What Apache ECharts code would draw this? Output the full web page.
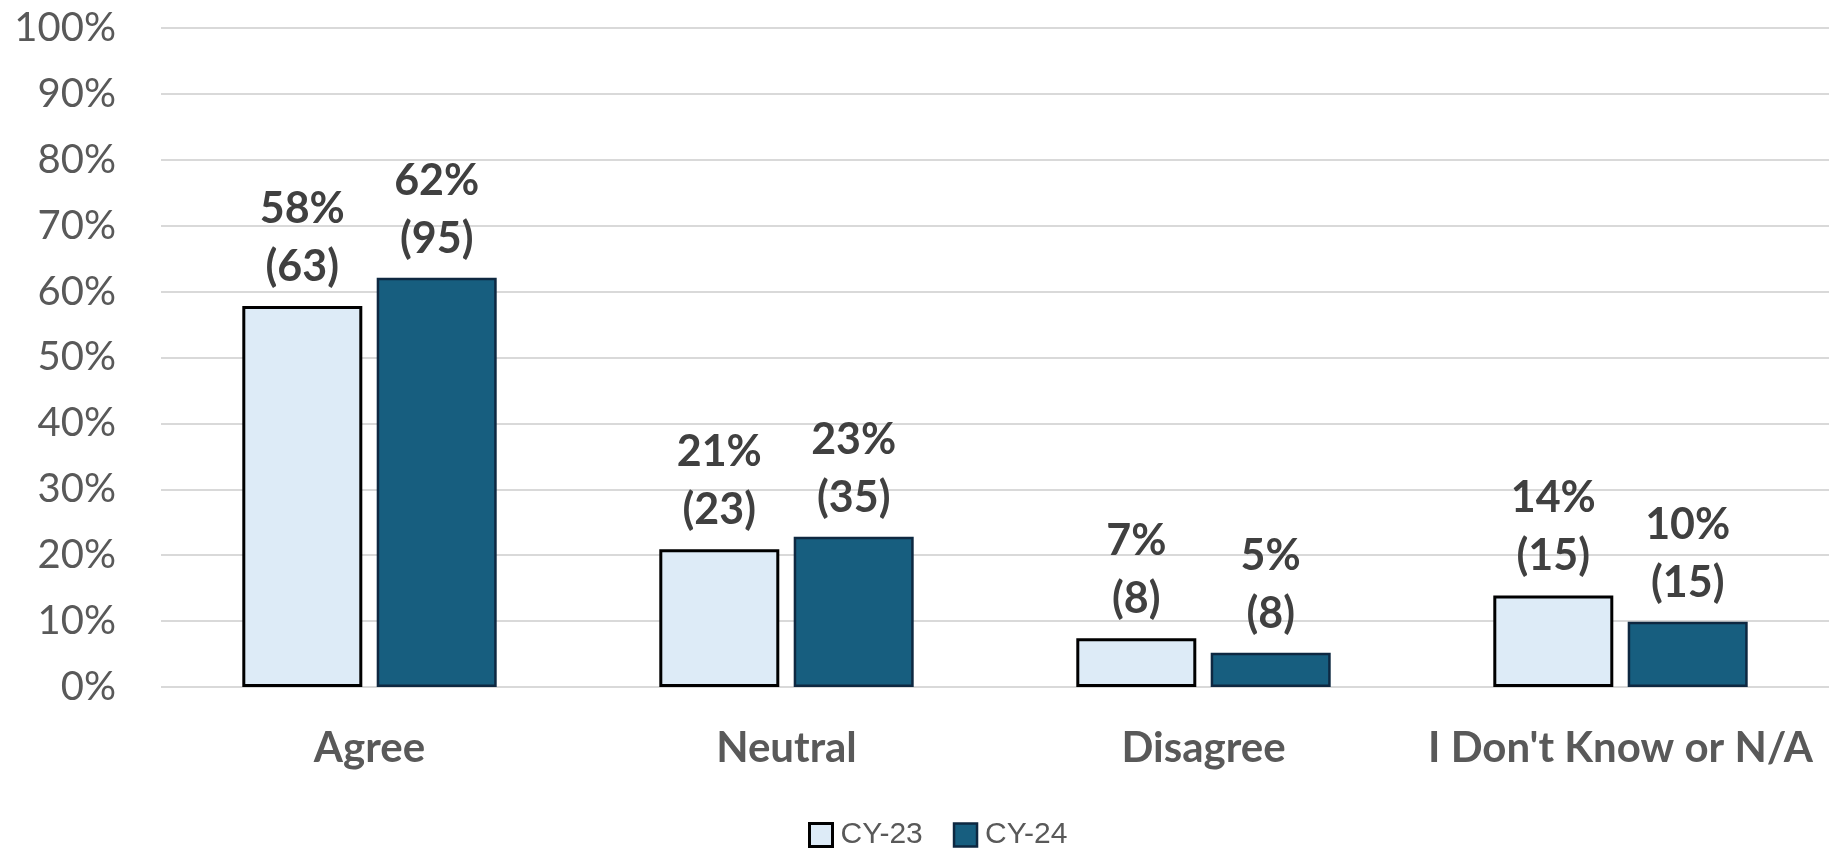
<!DOCTYPE html>
<html>
<head>
<meta charset="utf-8">
<script src="https://cdn.jsdelivr.net/npm/echarts@6/dist/echarts.min.js"></script>
<style>
    html, body { margin: 0; padding: 0; background: #fff; }
    #main { width: 1832px; height: 852px; }
</style>
</head>
<body>
<div id="main"></div>
<script>
var categories = ['Agree', 'Neutral', 'Disagree', "I Don't Know or N/A"];
var seriesNames = ['CY-23', 'CY-24'];
// bar heights in percent
var cy23Values = [57.8, 20.9, 7.4, 13.9];
var cy24Values = [62.1, 22.8, 5.2, 9.9];
// label text shown above the bars
var cy23Pct = ['58%', '21%', '7%', '14%'];
var cy24Pct = ['62%', '23%', '5%', '10%'];
var cy23Counts = [63, 23, 8, 15];
var cy24Counts = [95, 35, 8, 15];
var yTicks = [0, 10, 20, 30, 40, 50, 60, 70, 80, 90, 100];

var dom = document.getElementById('main');
var myChart = echarts.init(dom);

function makeLabel(pcts, counts) {
    return {
        show: true,
        position: 'top',
        distance: 10,
        color: '#404040',
        fontFamily: 'Lato',
        fontWeight: 'bold',
        fontSize: 43,
        lineHeight: 58,
        formatter: function (p) {
            return pcts[p.dataIndex] + '\n(' + counts[p.dataIndex] + ')';
        }
    };
}

var option = {
    animation: false,
    grid: { left: 161, right: 3, top: 28, bottom: 165 },
    legend: {
        top: 815,
        left: 803,
        itemWidth: 23,
        itemHeight: 23,
        itemGap: 30,
        icon: 'rect',
        textStyle: { color: '#595959', fontFamily: 'Liberation Sans', fontSize: 30, padding: [0, 0, 0, 3] },
        data: [
            { name: seriesNames[0], itemStyle: { borderColor: '#000', borderWidth: 3 } },
            { name: seriesNames[1], itemStyle: { borderColor: '#0E2841', borderWidth: 2.5 } }
        ]
    },
    xAxis: {
        type: 'category',
        data: categories,
        axisLine: { show: false },
        axisTick: { show: false },
        axisLabel: {
            interval: 0,
            margin: 40,
            color: '#595959',
            fontFamily: 'Lato',
            fontWeight: 'bold',
            fontSize: 42
        }
    },
    yAxis: {
        type: 'value',
        min: yTicks[0],
        max: yTicks[yTicks.length - 1],
        interval: 10,
        axisLine: { show: false },
        axisTick: { show: false },
        axisLabel: {
            margin: 45,
            color: '#595959',
            fontFamily: 'Lato',
            fontSize: 40,
            formatter: '{value}%'
        },
        splitLine: { lineStyle: { color: '#D9D9D9', width: 2 } }
    },
    series: [
        {
            name: seriesNames[0],
            type: 'bar',
            data: cy23Values,
            barWidth: 120,
            barGap: '12%',
            itemStyle: { color: '#DDEBF7', borderColor: '#000', borderWidth: 3 },
            label: makeLabel(cy23Pct, cy23Counts)
        },
        {
            name: seriesNames[1],
            type: 'bar',
            data: cy24Values,
            barWidth: 120,
            barGap: '12%',
            itemStyle: { color: '#175E7F', borderColor: '#0E2841', borderWidth: 2.5 },
            label: makeLabel(cy24Pct, cy24Counts)
        }
    ]
};

if (option && typeof option === 'object') {
    myChart.setOption(option);
}
</script>
</body>
</html>
